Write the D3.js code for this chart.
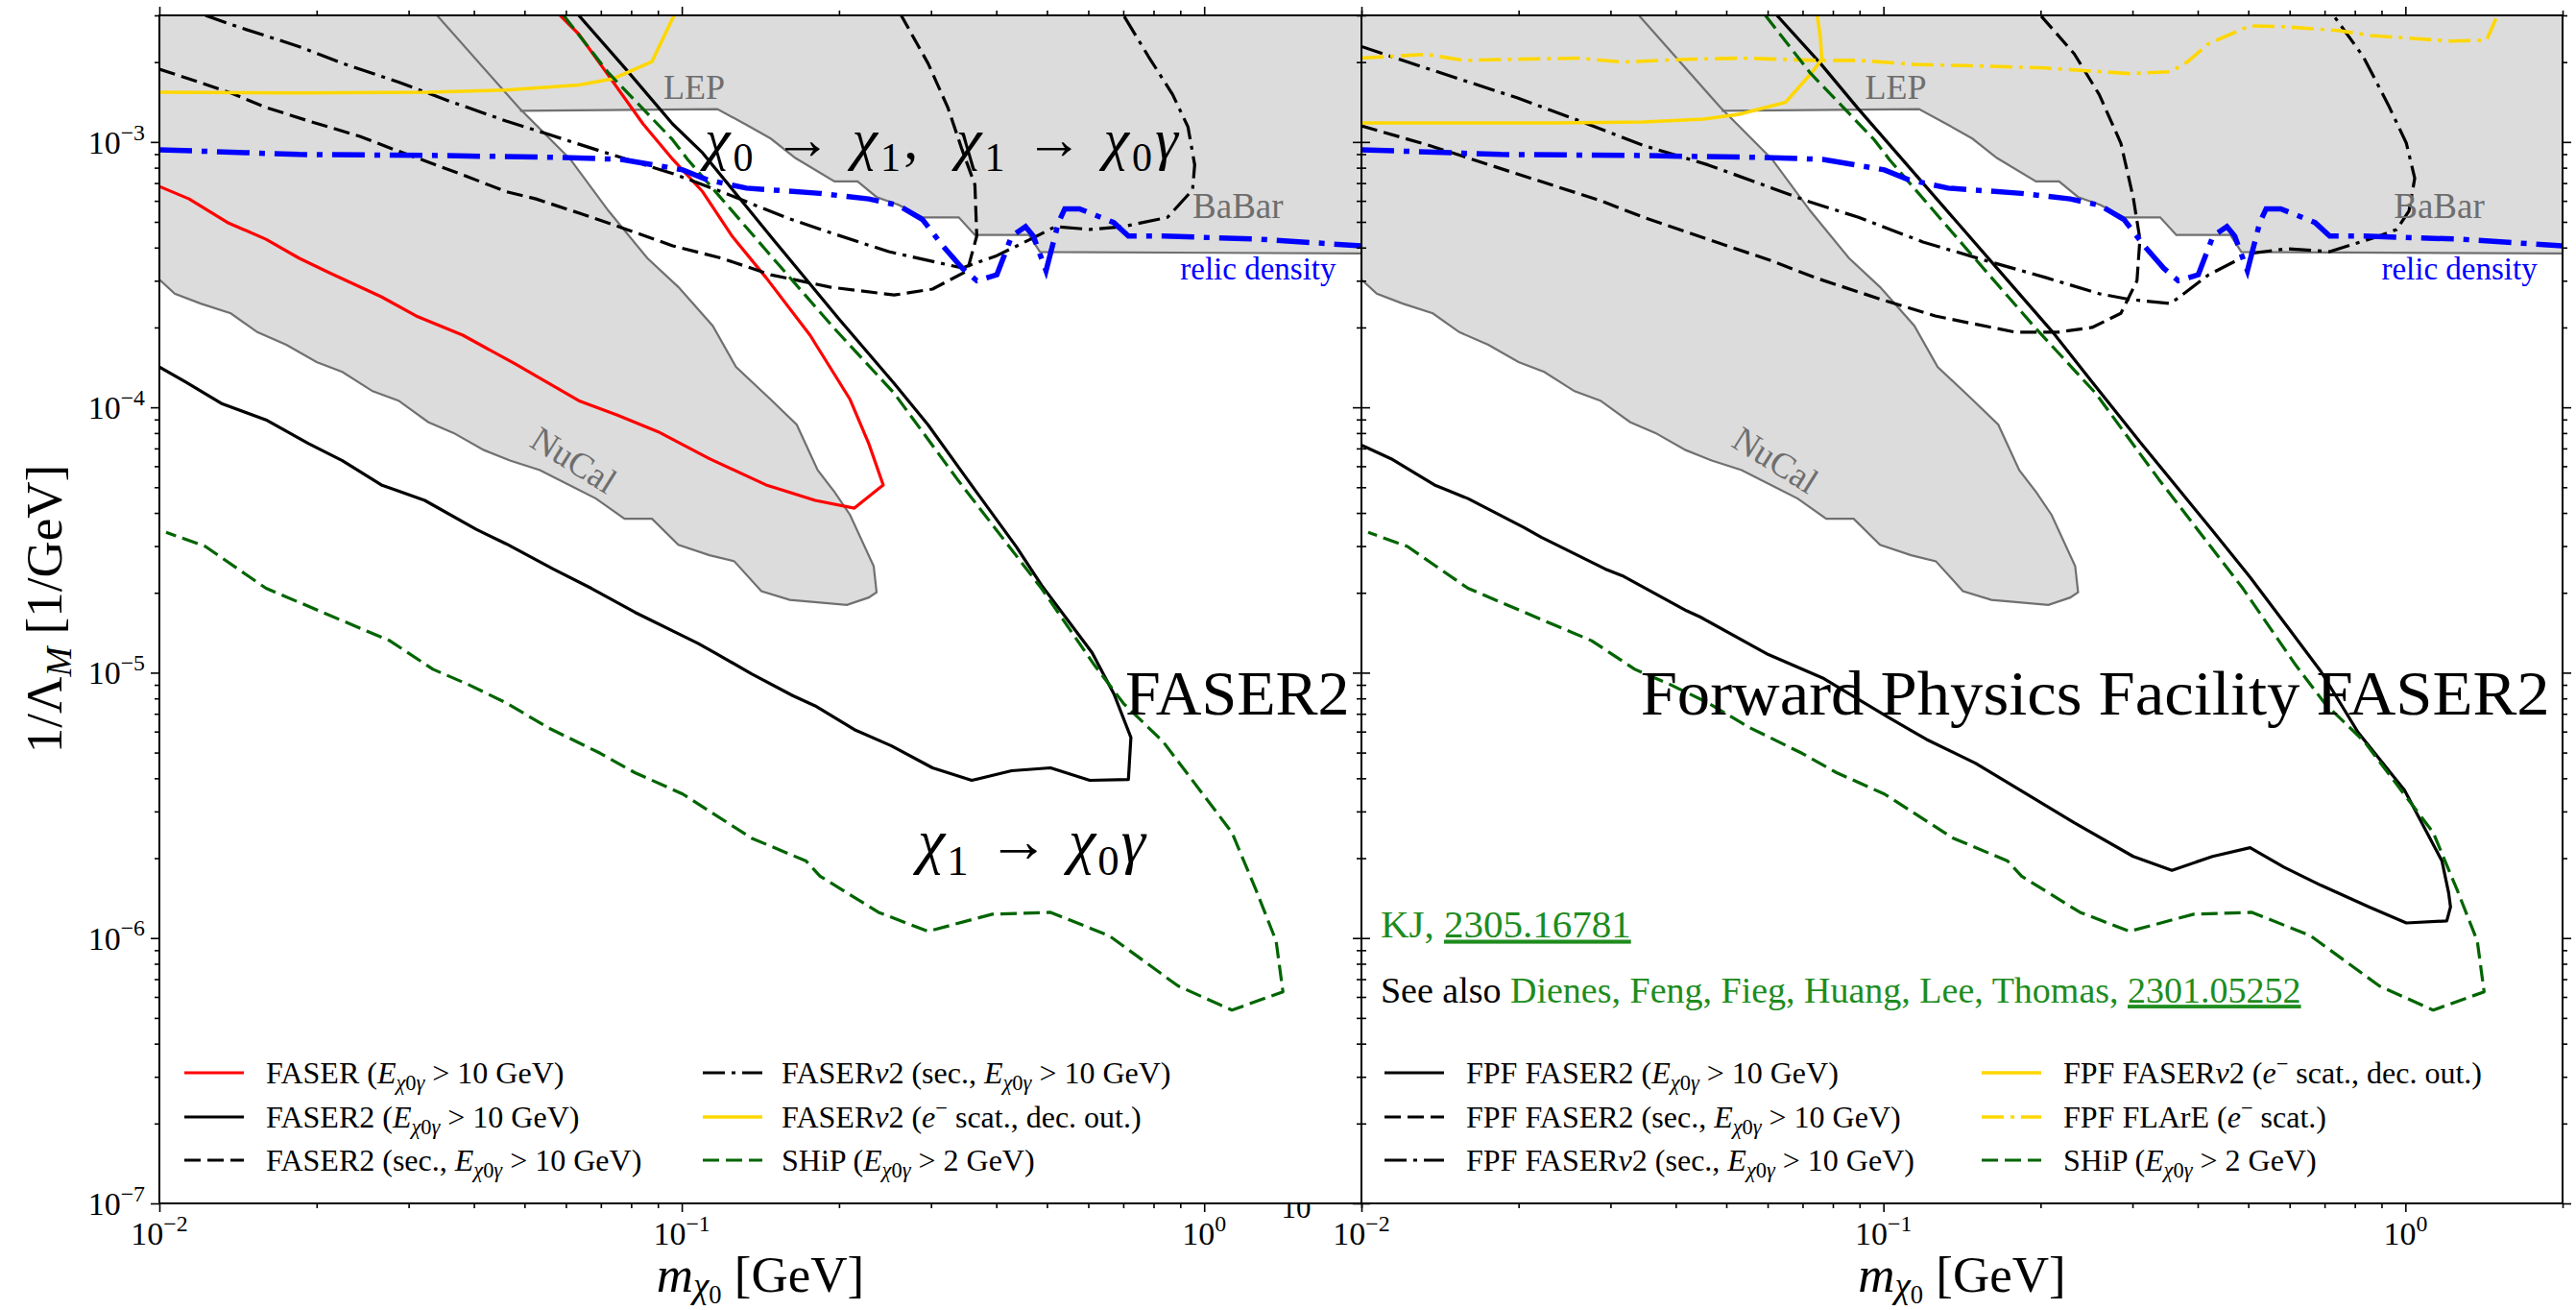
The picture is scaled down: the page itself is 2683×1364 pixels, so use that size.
<!DOCTYPE html>
<html>
<head>
<meta charset="utf-8">
<script src="https://cdn.jsdelivr.net/npm/d3@7"></script>
<style>
  body { margin: 0; background: #fff; }
  text { font-family: "Liberation Serif", "DejaVu Serif", serif; white-space: pre; }
</style>
</head>
<body>
<svg id="fig" width="2683" height="1364"></svg>
<script>
// ---- data: [m_chi0 (GeV), 1/Lambda_M (1/GeV)] ----
const nucal = [[0.01,3.0e-3],[0.034,3.0e-3],[0.0487,1.35e-3],[0.0612,8.6e-4],[0.0724,5.5e-4],[0.0859,3.65e-4],
  [0.0985,2.84e-4],[0.1146,2.03e-4],[0.127,1.42e-4],[0.148,1.07e-4],[0.166,8.6e-5],[0.182,5.8e-5],[0.196,4.8e-5],
  [0.210,3.93e-5],[0.233,2.52e-5],[0.236,2.01e-5],[0.228,1.92e-5],[0.207,1.80e-5],[0.161,1.88e-5],[0.142,2.03e-5],
  [0.126,2.63e-5],[0.113,2.77e-5],[0.0985,3.03e-5],[0.0877,3.80e-5],[0.0777,3.80e-5],[0.0685,4.53e-5],[0.0535,5.8e-5],
  [0.0469,6.3e-5],[0.0418,6.9e-5],[0.0366,8.0e-5],[0.0327,8.8e-5],[0.0287,1.06e-4],[0.0256,1.15e-4],[0.0224,1.36e-4],
  [0.0200,1.48e-4],[0.0175,1.72e-4],[0.0154,1.92e-4],[0.0137,2.26e-4],[0.0120,2.46e-4],[0.0107,2.68e-4],[0.01,3.03e-4]];
const lepBabar = [[0.049,1.31e-3],[0.117,1.33e-3],[0.133,1.16e-3],[0.148,1.03e-3],[0.165,8.7e-4],[0.196,7.1e-4],
  [0.217,7.1e-4],[0.236,6.2e-4],[0.26,5.8e-4],[0.289,5.2e-4],[0.339,5.2e-4],[0.364,4.46e-4],[0.462,4.46e-4],
  [0.485,3.85e-4],[2.0,3.8e-4]];
const relic = [[0.01,9.35e-4],[0.0185,8.97e-4],[0.0327,8.9e-4],[0.0577,8.75e-4],[0.0766,8.6e-4],[0.1004,7.85e-4],
  [0.112,7.2e-4],[0.133,6.7e-4],[0.184,6.4e-4],[0.228,6.1e-4],[0.26,5.77e-4],[0.289,5.1e-4],[0.316,4.06e-4],
  [0.344,3.35e-4],[0.367,3.0e-4],[0.401,3.16e-4],[0.428,4.42e-4],[0.455,4.8e-4],[0.471,4.42e-4],[0.498,3.27e-4],
  [0.526,4.97e-4],[0.541,5.6e-4],[0.577,5.6e-4],[0.671,4.97e-4],[0.716,4.42e-4],[0.834,4.42e-4],[1.28,4.3e-4],[2.0,4.06e-4]];
const ship = [[0.0594,3.0e-3],[0.0724,1.82e-3],[0.096,1.02e-3],[0.1026,8.6e-4],[0.148,3.73e-4],[0.196,1.98e-4],
  [0.255,1.13e-4],[0.337,5.35e-5],[0.488,2.08e-5],[0.616,1.07e-5],[0.701,7.65e-6],[0.834,5.5e-6],[1.13,2.5e-6],
  [1.256,1.52e-6],[1.373,9.75e-7],[1.415,6.27e-7],[1.13,5.35e-7],[0.891,6.6e-7],[0.658,1.02e-6],[0.508,1.25e-6],
  [0.393,1.23e-6],[0.296,1.06e-6],[0.238,1.25e-6],[0.184,1.71e-6],[0.173,1.95e-6],[0.136,2.38e-6],[0.1004,3.49e-6],
  [0.0813,4.2e-6],[0.0698,4.97e-6],[0.0555,6.2e-6],[0.0461,7.7e-6],[0.0389,9.05e-6],[0.0334,1.03e-5],[0.0276,1.32e-5],
  [0.0224,1.57e-5],[0.016,2.08e-5],[0.01225,2.99e-5],[0.0103,3.38e-5]];

const faser = [[0.0585,3.0e-3],[0.0635,2.55e-3],[0.0724,1.78e-3],[0.0843,1.17e-3],[0.0961,8.6e-4],[0.1096,6.5e-4],
  [0.125,4.4e-4],[0.145,3.08e-4],[0.176,1.87e-4],[0.210,1.07e-4],[0.228,7.3e-5],[0.243,5.1e-5],[0.214,4.17e-5],
  [0.180,4.46e-5],[0.145,5.1e-5],[0.113,6.4e-5],[0.090,8.1e-5],[0.0753,9.35e-5],[0.0635,1.06e-4],[0.0479,1.46e-4],
  [0.0381,1.87e-4],[0.031,2.21e-4],[0.0266,2.61e-4],[0.0212,3.21e-4],[0.0185,3.65e-4],[0.016,4.3e-4],[0.0135,4.97e-4],
  [0.0114,6.1e-4],[0.01,6.8e-4]];
const faser2 = [[0.0635,3.0e-3],[0.0782,1.88e-3],[0.096,1.17e-3],[0.1096,9.1e-4],[0.151,4.2e-4],[0.200,2.15e-4],
  [0.255,1.23e-4],[0.296,8.6e-5],[0.352,5.35e-5],[0.437,2.98e-5],[0.488,2.14e-5],[0.610,1.19e-5],[0.672,8.3e-6],
  [0.724,5.7e-6],[0.716,3.96e-6],[0.604,3.93e-6],[0.508,4.38e-6],[0.428,4.27e-6],[0.359,3.93e-6],[0.302,4.38e-6],
  [0.252,5.3e-6],[0.214,6.1e-6],[0.180,7.5e-6],[0.163,8.2e-6],[0.136,9.9e-6],[0.1156,1.19e-5],[0.1074,1.29e-5],
  [0.0813,1.69e-5],[0.0671,2.08e-5],[0.0567,2.46e-5],[0.0461,3.06e-5],[0.0404,3.47e-5],[0.0322,4.46e-5],[0.0266,5.1e-5],
  [0.0224,6.3e-5],[0.0193,7.3e-5],[0.016,8.97e-5],[0.0132,1.03e-4],[0.0112,1.25e-4],[0.01,1.42e-4]];
const faser2Sec = [[0.01,1.88e-3],[0.0116,1.71e-3],[0.0137,1.53e-3],[0.016,1.35e-3],[0.0193,1.2e-3],[0.0242,1.05e-3],
  [0.0282,9.35e-4],[0.0327,8.4e-4],[0.0389,7.4e-4],[0.0461,6.5e-4],[0.0526,6.1e-4],[0.0635,5.4e-4],[0.0766,4.76e-4],
  [0.0961,4.06e-4],[0.119,3.65e-4],[0.148,3.16e-4],[0.192,2.84e-4],[0.255,2.65e-4],[0.302,2.79e-4],[0.352,3.27e-4],
  [0.367,4.42e-4],[0.364,6.9e-4],[0.344,9.35e-4],[0.323,1.35e-3],[0.296,1.98e-3],[0.263,3.0e-3]];
const fasernu2Sec = [[0.01225,3.0e-3],[0.01426,2.7e-3],[0.0185,2.29e-3],[0.0224,1.98e-3],[0.0287,1.68e-3],
  [0.0361,1.42e-3],[0.0461,1.2e-3],[0.0546,1.08e-3],[0.0686,9.35e-4],[0.0961,7.6e-4],[0.119,6.5e-4],[0.158,5.2e-4],
  [0.192,4.56e-4],[0.249,3.86e-4],[0.344,3.35e-4],[0.401,3.73e-4],[0.465,4.3e-4],[0.519,4.8e-4],[0.604,4.68e-4],
  [0.701,4.8e-4],[0.851,5.2e-4],[0.95,6.6e-4],[0.959,8.2e-4],[0.931,1.14e-3],[0.87,1.51e-3],[0.782,2.1e-3],[0.701,3.0e-3]];
const fasernu2Scat = [[0.01,1.54e-3],[0.0185,1.53e-3],[0.0327,1.54e-3],[0.0461,1.57e-3],[0.0635,1.64e-3],
  [0.0738,1.73e-3],[0.0877,2.01e-3],[0.0961,2.93e-3],[0.0966,3.0e-3]];

const fpfFaser2 = [[0.0625,3.0e-3],[0.0757,1.98e-3],[0.0896,1.33e-3],[0.163,3.44e-4],[0.211,1.92e-4],[0.25,1.26e-4],
  [0.312,7.3e-5],[0.427,3.43e-5],[0.504,2.29e-5],[0.594,1.49e-5],[0.689,1.01e-5],[0.812,5.95e-6],[0.996,3.61e-6],
  [1.175,1.95e-6],[1.21,1.48e-6],[1.22,1.31e-6],[1.2,1.16e-6],[1.004,1.14e-6],[0.851,1.31e-6],[0.689,1.58e-6],
  [0.585,1.85e-6],[0.504,2.19e-6],[0.427,2.03e-6],[0.357,1.8e-6],[0.301,2.03e-6],[0.232,2.72e-6],[0.17,3.93e-6],
  [0.15,4.56e-6],[0.121,5.6e-6],[0.102,6.8e-6],[0.0769,9.5e-6],[0.0602,1.17e-5],[0.0446,1.62e-5],[0.042,1.71e-5],
  [0.0316,2.32e-5],[0.0293,2.46e-5],[0.0221,3.24e-5],[0.0205,3.52e-5],[0.016,4.53e-5],[0.0138,5.1e-5],[0.0114,6.4e-5],
  [0.01,7.2e-5]];
const fpfFaser2Sec = [[0.01,1.15e-3],[0.0135,9.7e-4],[0.0198,7.6e-4],[0.0288,6.0e-4],[0.0347,5.2e-4],[0.0508,4.03e-4],
  [0.0612,3.56e-4],[0.074,3.08e-4],[0.0984,2.56e-4],[0.1257,2.21e-4],[0.146,2.08e-4],[0.179,1.92e-4],[0.216,1.92e-4],
  [0.251,2.0e-4],[0.285,2.26e-4],[0.306,3.0e-4],[0.31,4.3e-4],[0.301,6.17e-4],[0.285,9.9e-4],[0.259,1.51e-3],
  [0.232,2.15e-3],[0.2,3.0e-3]];
const fpfFasernu2Sec = [[0.01,2.29e-3],[0.0135,1.88e-3],[0.0198,1.47e-3],[0.0262,1.2e-3],[0.0347,9.7e-4],
  [0.0461,8.2e-4],[0.0612,6.7e-4],[0.0713,6.0e-4],[0.0896,5.2e-4],[0.119,4.2e-4],[0.158,3.56e-4],[0.205,3.08e-4],
  [0.259,2.68e-4],[0.296,2.55e-4],[0.355,2.46e-4],[0.42,3.16e-4],[0.504,3.8e-4],[0.594,3.96e-4],[0.716,3.86e-4],
  [0.877,4.38e-4],[0.962,4.68e-4],[1.016,5.5e-4],[1.042,7.3e-4],[1.004,9.9e-4],[0.927,1.38e-3],[0.83,2.1e-3],[0.728,3.0e-3]];
const fpfFasernu2Scat = [[0.01,1.18e-3],[0.0163,1.18e-3],[0.0238,1.18e-3],[0.0347,1.19e-3],[0.0453,1.22e-3],
  [0.0527,1.27e-3],[0.0649,1.41e-3],[0.0728,1.82e-3],[0.0762,2.05e-3],[0.0757,2.48e-3],[0.0747,3.0e-3]];
const fpfFlare = [[0.01,2.07e-3],[0.0133,2.14e-3],[0.0157,2.03e-3],[0.0198,2.05e-3],[0.0262,2.07e-3],[0.0316,2.0e-3],
  [0.042,2.05e-3],[0.0537,2.07e-3],[0.074,2.03e-3],[0.0896,2.03e-3],[0.1146,1.96e-3],[0.158,1.93e-3],[0.205,1.9e-3],
  [0.296,1.81e-3],[0.355,1.84e-3],[0.383,2.01e-3],[0.42,2.35e-3],[0.504,2.74e-3],[0.585,2.72e-3],[0.743,2.63e-3],
  [0.859,2.52e-3],[1.22,2.40e-3],[1.43,2.42e-3],[1.5,3.0e-3]];

const xMajor = [0.01, 0.1, 1];
const xTickLabels = ["10^{−2}", "10^{−1}", "10^{0}"];
const yMajor = [1e-7, 1e-6, 1e-5, 1e-4, 1e-3];
const yTickLabels = ["10^{−7}", "10^{−6}", "10^{−5}", "10^{−4}", "10^{−3}"];

// ---- styles ----
const DASH = { solid: null, dashed: "17,7", dashdot: "23,7,4,7" };
const GOLD = "#ffd700", GREEN = "#006400", TXTGREEN = "#1e8c1e", GRAYLINE = "#707070", GRAYTXT = "#6e6e6e";

const leftCurves = [
  { data: faser, color: "#ff0000", dash: "solid", label: "FASER (*E*_{*χ*}_{0}_{*γ*} > 10 GeV)" },
  { data: faser2, color: "#000", dash: "solid", label: "FASER2 (*E*_{*χ*}_{0}_{*γ*} > 10 GeV)" },
  { data: faser2Sec, color: "#000", dash: "dashed", label: "FASER2 (sec., *E*_{*χ*}_{0}_{*γ*} > 10 GeV)" },
  { data: fasernu2Sec, color: "#000", dash: "dashdot", label: "FASER*ν*2 (sec., *E*_{*χ*}_{0}_{*γ*} > 10 GeV)" },
  { data: fasernu2Scat, color: GOLD, dash: "solid", label: "FASER*ν*2 (*e*^{−} scat., dec. out.)" },
  { data: ship, color: GREEN, dash: "dashed", label: "SHiP (*E*_{*χ*}_{0}_{*γ*} > 2 GeV)" }
];
const rightCurves = [
  { data: fpfFaser2, color: "#000", dash: "solid", label: "FPF FASER2 (*E*_{*χ*}_{0}_{*γ*} > 10 GeV)" },
  { data: fpfFaser2Sec, color: "#000", dash: "dashed", label: "FPF FASER2 (sec., *E*_{*χ*}_{0}_{*γ*} > 10 GeV)" },
  { data: fpfFasernu2Sec, color: "#000", dash: "dashdot", label: "FPF FASER*ν*2 (sec., *E*_{*χ*}_{0}_{*γ*} > 10 GeV)" },
  { data: fpfFasernu2Scat, color: GOLD, dash: "solid", label: "FPF FASER*ν*2 (*e*^{−} scat., dec. out.)" },
  { data: fpfFlare, color: GOLD, dash: "dashdot", label: "FPF FLArE (*e*^{−} scat.)" },
  { data: ship, color: GREEN, dash: "dashed", label: "SHiP (*E*_{*χ*}_{0}_{*γ*} > 2 GeV)" }
];

const panels = [
  { x0: 166, x1: 1418, curves: leftCurves, legendCols: [[192, 277], [732, 814]] },
  { x0: 1418, x1: 2669, curves: rightCurves, legendCols: [[1442, 1527], [2064, 2149]] }
];
const plotTop = 16, plotBottom = 1253;
const y = d3.scaleLog().domain([1e-7, 3e-3]).range([plotBottom, plotTop]);

const svg = d3.select("#fig");
svg.append("rect").attr("width", 2683).attr("height", 1364).attr("fill", "#fff");

// small markup: *it*, _{sub}, __{subsub}, ^{sup}
function rich(parent, str, size, attrs, subShift) {
  const t = parent.append("text").attr("font-size", size);
  Object.entries(attrs || {}).forEach(([k, v]) => t.attr(k, v));
  const re = /(__\{[^}]*\}|_\{[^}]*\}|\^\{[^}]*\}|\*[^*]*\*|[^_^*]+)/g;
  const sub = subShift == null ? 0.22 : subShift;
  let cur = 0, m;
  while ((m = re.exec(str))) {
    let tok = m[0], shift = 0, fs = size, it = false;
    if (tok.startsWith("__{")) { shift = size * (sub + 0.1); fs = size * 0.5; tok = tok.slice(3, -1); }
    else if (tok.startsWith("_{")) { shift = size * sub; fs = size * 0.7; tok = tok.slice(2, -1); }
    else if (tok.startsWith("^{")) { shift = -size * 0.42; fs = size * 0.7; tok = tok.slice(2, -1); }
    if (tok.length > 1 && tok[0] === "*" && tok[tok.length - 1] === "*") { it = true; tok = tok.slice(1, -1); }
    t.append("tspan").attr("dy", shift - cur).attr("font-size", fs)
      .attr("font-style", it ? "italic" : null).text(tok);
    cur = shift;
  }
  return t;
}

panels.forEach((p, i) => {
  p.x = d3.scaleLog().domain([0.01, 2]).range([p.x0, p.x1]);
  const x = p.x;
  const line = d3.line().x(d => x(d[0])).y(d => y(d[1]));
  const clipId = "clip" + i;
  svg.append("clipPath").attr("id", clipId).append("rect")
    .attr("x", p.x0).attr("y", plotTop).attr("width", p.x1 - p.x0).attr("height", plotBottom - plotTop);
  const g = svg.append("g").attr("clip-path", `url(#${clipId})`);

  // exclusions
  const [xl, xr] = x.domain(), yt = y.domain()[1];
  const lepFill = [[xl, lepBabar[0][1]], ...lepBabar, [xr, yt], [xl, yt]];
  g.append("path").attr("d", line(nucal) + "Z").attr("fill", "#dcdcdc");
  g.append("path").attr("d", line(lepFill) + "Z").attr("fill", "#dcdcdc");
  g.append("path").attr("d", line(nucal) + "Z").attr("fill", "none").attr("stroke", GRAYLINE).attr("stroke-width", 2.2);
  g.append("path").attr("d", line(lepBabar)).attr("fill", "none").attr("stroke", GRAYLINE).attr("stroke-width", 2.2);

  // sensitivity curves
  p.curves.forEach(c => {
    g.append("path").attr("d", line(c.data)).attr("fill", "none")
      .attr("stroke", c.color).attr("stroke-width", c.color === GOLD ? 3.6 : 3.2)
      .attr("stroke-dasharray", DASH[c.dash]).attr("stroke-linejoin", "round");
  });
  g.append("path").attr("d", line(relic)).attr("fill", "none").attr("stroke", "#0000ff")
    .attr("stroke-width", 5.5).attr("stroke-dasharray", "34,10,6,10");

  // labels in data coordinates
  g.append("text").attr("x", x(0.0922)).attr("y", y(1.45e-3)).attr("font-size", 36).attr("fill", GRAYTXT).text("LEP");
  g.append("text").attr("x", x(0.95)).attr("y", y(5.18e-4)).attr("font-size", 37).attr("fill", GRAYTXT).text("BaBar");
  g.append("text").attr("transform", `translate(${x(0.0604)},${y(5.8e-5)}) rotate(32)`)
    .attr("text-anchor", "middle").attr("font-size", 37).attr("fill", GRAYTXT).text("NuCal");
  g.append("text").attr("x", x(0.90)).attr("y", y(3.03e-4)).attr("font-size", 33).attr("fill", "#0000ff").text("relic density");

  if (i === 0) {
    rich(g, "FASER2", 66, { x: x(1.897), y: y(6.94e-6), "text-anchor": "end" });
    rich(g, "*χ*_{0} → *χ*_{1},  *χ*_{1} → *χ*_{0}*γ*", 60,
      { x: x(0.1106), y: y(8.7e-4), textLength: 493, lengthAdjust: "spacing" });
    rich(g, "*χ*_{1} → *χ*_{0}*γ*", 64, { x: x(0.283), y: y(1.95e-6), textLength: 237, lengthAdjust: "spacing" });
  } else {
    rich(g, "Forward Physics Facility FASER2", 66,
      { x: x(1.89), y: y(6.94e-6), "text-anchor": "end", textLength: 947, lengthAdjust: "spacingAndGlyphs" });
    const kj = g.append("text").attr("x", x(0.01088)).attr("y", y(1.01e-6)).attr("font-size", 41).attr("fill", TXTGREEN);
    kj.append("tspan").text("KJ, ");
    kj.append("tspan").attr("text-decoration", "underline").text("2305.16781");
    const also = g.append("text").attr("x", x(0.01088)).attr("y", y(5.7e-7)).attr("font-size", 38);
    also.append("tspan").attr("fill", "#000").text("See also ");
    also.append("tspan").attr("fill", TXTGREEN).text("Dienes, Feng, Fieg, Huang, Lee, Thomas, ");
    also.append("tspan").attr("fill", TXTGREEN).attr("text-decoration", "underline").text("2301.05252");
  }

  // legend (2 columns, 3 rows)
  const rowY = [1117, 1163, 1208];
  p.curves.forEach((c, k) => {
    const [lx, tx] = p.legendCols[Math.floor(k / 3)];
    const ry = rowY[k % 3];
    svg.append("line").attr("x1", lx).attr("x2", lx + 62).attr("y1", ry).attr("y2", ry)
      .attr("stroke", c.color).attr("stroke-width", c.color === GOLD ? 3.6 : 3.2)
      .attr("stroke-dasharray", DASH[c.dash]);
    rich(svg, c.label, 32, { x: tx, y: ry + 11 });
  });
});

// axes, ticks and frame on top of both panels
const xMinor = xMajor.flatMap(d => d3.range(2, 10).map(k => k * d)).filter(v => v <= 2.0001);
const yMinor = yMajor.flatMap(d => d3.range(2, 10).map(k => k * d)).filter(v => v <= 3.0001e-3);

panels.forEach((p, i) => {
  const x = p.x;
  const ax = svg.append("g");
  const tick = (gen, vals, size) => gen.tickValues(vals).tickSize(size).tickSizeOuter(0).tickFormat("");
  [[d3.axisBottom, plotBottom], [d3.axisTop, plotTop]].forEach(([A, ty]) => {
    ax.append("g").attr("transform", `translate(0,${ty})`).call(tick(A(x), xMajor, 9));
    ax.append("g").attr("transform", `translate(0,${ty})`).call(tick(A(x), xMinor, 5));
  });
  [[d3.axisLeft, p.x0], [d3.axisRight, p.x1]].forEach(([A, tx]) => {
    ax.append("g").attr("transform", `translate(${tx},0)`).call(tick(A(y), yMajor, 9));
    ax.append("g").attr("transform", `translate(${tx},0)`).call(tick(A(y), yMinor, 5));
  });
  ax.selectAll(".domain").remove();
  ax.selectAll(".tick line").attr("stroke", "#000").attr("stroke-width", 1.6);

  svg.append("rect").attr("x", p.x0).attr("y", plotTop).attr("width", p.x1 - p.x0).attr("height", plotBottom - plotTop)
    .attr("fill", "none").attr("stroke", "#000").attr("stroke-width", 2);

  xMajor.forEach((v, k) => rich(svg, xTickLabels[k], 34, { x: x(v), y: 1296, "text-anchor": "middle" }));
  if (i === 0) {
    yMajor.forEach((v, k) => rich(svg, yTickLabels[k], 34, { x: 151, y: y(v) + 12, "text-anchor": "end" }));
  }
  rich(svg, "*m*_{*χ*}__{0} [GeV]", 53, { x: (p.x0 + p.x1) / 2, y: 1345, "text-anchor": "middle" }, 0.12);
});

rich(svg, "1/Λ_{*M*} [1/GeV]", 53, { transform: "translate(64,634) rotate(-90)", "text-anchor": "middle" }, 0.18);

// stray clipped "10" just under the left panel's axis
svg.append("clipPath").attr("id", "strayClip").append("rect").attr("x", 1300).attr("y", plotBottom + 1).attr("width", 100).attr("height", 40);
svg.append("text").attr("clip-path", "url(#strayClip)").attr("x", 1350).attr("y", 1268)
  .attr("text-anchor", "middle").attr("font-size", 31).text("10");
</script>
</body>
</html>
